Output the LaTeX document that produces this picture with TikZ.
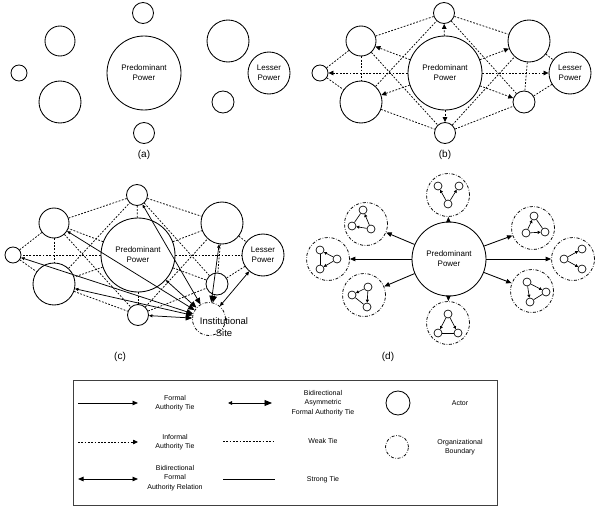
\documentclass[tikz,border=0pt]{standalone}
\usepackage{fontspec}
\setmainfont{Liberation Sans}
\usetikzlibrary{arrows.meta, positioning}
\newcommand{\Actors}[1]{%
  \node[actor, minimum size=74pt] (#1-pp) at (144,73) {Predominant\\Power};
  \node[actor, minimum size=21pt] (#1-t) at (143,13) {};
  \node[actor, minimum size=21pt] (#1-b) at (144,133) {};
  \node[actor, minimum size=30pt] (#1-ul) at (60,41) {};
  \node[actor, minimum size=16pt] (#1-fl) at (19,73) {};
  \node[actor, minimum size=42pt] (#1-ll) at (60,102) {};
  \node[actor, minimum size=42pt] (#1-ur) at (228,41) {};
  \node[actor, minimum size=42pt] (#1-lp) at (269,73) {Lesser\\Power};
  \node[actor, minimum size=22pt] (#1-lr) at (223,102) {};
}
\newcommand{\WeakTies}[1]{%
  \foreach \u/\v in {fl/ul, fl/ll, ul/ll, ul/t, ul/b, ll/t, ll/b,
                     t/ur, t/lr, b/ur, b/lr, ur/lp, ur/lr, lr/lp}
    \draw[weak] (#1-\u) -- (#1-\v);
}
\tikzset{
    actor/.style={circle, draw, line width=0.85pt, inner sep=0pt, align=center,
                  font=\fontsize{8}{10}\selectfont},
    weak/.style={line width=0.75pt, dash pattern=on 1.8pt off 1.5pt},
    informal/.style={weak, -{Triangle[length=5pt,width=4.5pt]}},
    formal/.style={line width=0.85pt, -{Triangle[length=5.5pt,width=4.5pt]}},
    asym/.style={line width=0.75pt, {Triangle[length=3.5pt,width=3pt]}-{Triangle[length=6.5pt,width=5.5pt]}},
    bidir/.style={line width=0.75pt, {Triangle[length=4pt,width=3.5pt]}-{Triangle[length=4pt,width=3.5pt]}},
    boundary/.style={circle, draw, line width=0.75pt, inner sep=0pt,
                     dash pattern=on 3pt off 1.6pt on 0.6pt off 1.6pt},
    member/.style={circle, draw, line width=0.65pt, inner sep=0pt, minimum size=8pt},
    innerarrow/.style={line width=0.65pt, -{Triangle[length=3pt,width=3pt]}},
    paneltag/.style={font=\fontsize{10}{12}\selectfont},
    legtext/.style={font=\fontsize{7}{9.5}\selectfont, align=center},
}
\begin{document}
\begin{tikzpicture}[x=1pt, y=-1pt]
    \useasboundingbox (0,0) rectangle (600,511);

    % (a) actors only
    \Actors{a}
    \node[paneltag] (a-tag) at (144,155) {(a)};

    % (b) informal authority ties
    \begin{scope}[shift={(301,0)}]
      \Actors{b}
      \WeakTies{b}
      \foreach \v in {t,b,ul,fl,ll,ur,lp,lr}
        \draw[informal] (b-pp) -- (b-\v);
      \node[paneltag] (b-tag) at (144,155) {(b)};
    \end{scope}

    % (c) institutional site
    \begin{scope}[shift={(-6,182)}]
      \Actors{c}
      \WeakTies{c}
      \foreach \v in {t,b,ul,fl,ll,ur,lp,lr}
        \draw[weak] (c-pp) -- (c-\v);
      \node[boundary, minimum size=33pt] (c-site) at (215,137) {};
      \node[font=\fontsize{9.5}{11.5}\selectfont, align=center] (c-sitetext) at (230,145) {Institutional\\Site};
      \foreach \v in {fl,ul,ll,b,pp,t,ur,lr}
        \draw[asym] (c-\v) -- (c-site);
      \draw[bidir] (c-lp) -- (c-site);
      \node[paneltag] (c-tag) at (126,175) {(c)};
    \end{scope}

    % (d) organizational boundaries
    \node[actor, minimum size=74pt] (d-pp) at (449,259) {Predominant\\Power};
    \foreach \k/\cx/\cy/\ex/\ey/\ax/\ay/\bx/\by/\s in {
        t/448/195/0/9/-10/-9/11/-9/0,
        ul/366/224/5/5/-3/-14/-14/2/1,
        l/328/259/9/0/-8/-9/-8/10/1,
        ll/364/295/4/-8/-12/0/3/12/1,
        b/448/323/0/-9/-10/10/10/10/1,
        ur/533/228/-7/5/1/-12/12/4/1,
        r/573/259/-9/0/9/-10/9/10/0,
        lr/532/291/-5/-9/14/1/-2/11/1} {
      \node[boundary, minimum size=43pt] (d-\k) at (\cx,\cy) {};
      \node[member] (d-\k-e) at ([shift={(\ex,\ey)}]d-\k.center) {};
      \node[member] (d-\k-a) at ([shift={(\ax,\ay)}]d-\k.center) {};
      \node[member] (d-\k-b) at ([shift={(\bx,\by)}]d-\k.center) {};
      \draw[innerarrow] (d-\k-e) -- (d-\k-a);
      \draw[innerarrow] (d-\k-e) -- (d-\k-b);
      \ifnum\s=1 \draw[line width=0.65pt] (d-\k-a) -- (d-\k-b); \fi
      \draw[formal] (d-pp) -- (d-\k);
    }
    \node[paneltag] (d-tag) at (388,357) {(d)};

    % legend
    \node[draw=black!75, line width=1pt, minimum width=424pt, minimum height=125pt,
          inner sep=0pt] (legend) at (285,442.5) {};
    \coordinate (lg-f1) at (78,403);  \coordinate (lg-f2) at (138,403);
    \coordinate (lg-i1) at (78,442);  \coordinate (lg-i2) at (138,442);
    \coordinate (lg-r1) at (78,479);  \coordinate (lg-r2) at (138,479);
    \coordinate (lg-a1) at (228,403); \coordinate (lg-a2) at (272,403);
    \coordinate (lg-w1) at (223,441); \coordinate (lg-w2) at (275,441);
    \coordinate (lg-s1) at (223,479); \coordinate (lg-s2) at (275,479);
    \draw[formal] (lg-f1) -- (lg-f2);
    \draw[informal] (lg-i1) -- (lg-i2);
    \draw[line width=0.85pt, {Triangle[length=5.5pt,width=4.5pt]}-{Triangle[length=5.5pt,width=4.5pt]}] (lg-r1) -- (lg-r2);
    \draw[line width=0.85pt, {Triangle[length=4pt,width=3.5pt]}-{Triangle[length=7.5pt,width=6pt]}] (lg-a1) -- (lg-a2);
    \draw[weak] (lg-w1) -- (lg-w2);
    \draw[line width=0.75pt] (lg-s1) -- (lg-s2);
    \node[actor, minimum size=24pt] (lg-actor) at (398,403) {};
    \node[boundary, minimum size=23pt] (lg-bound) at (397,447) {};

    \node[legtext] (lg-t1) at (175,403) {Formal\\Authority Tie};
    \node[legtext] (lg-t2) at (175,442) {Informal\\Authority Tie};
    \node[legtext] (lg-t3) at (175,478) {Bidirectional\\Formal\\Authority Relation};
    \node[legtext] (lg-t4) at (323,403) {Bidirectional\\Asymmetric\\Formal Authority Tie};
    \node[legtext] (lg-t5) at (323,441) {Weak Tie};
    \node[legtext] (lg-t6) at (323,480) {Strong Tie};
    \node[legtext] (lg-t7) at (460,403) {Actor};
    \node[legtext] (lg-t8) at (460,447) {Organizational\\Boundary};
\end{tikzpicture}
\end{document}
